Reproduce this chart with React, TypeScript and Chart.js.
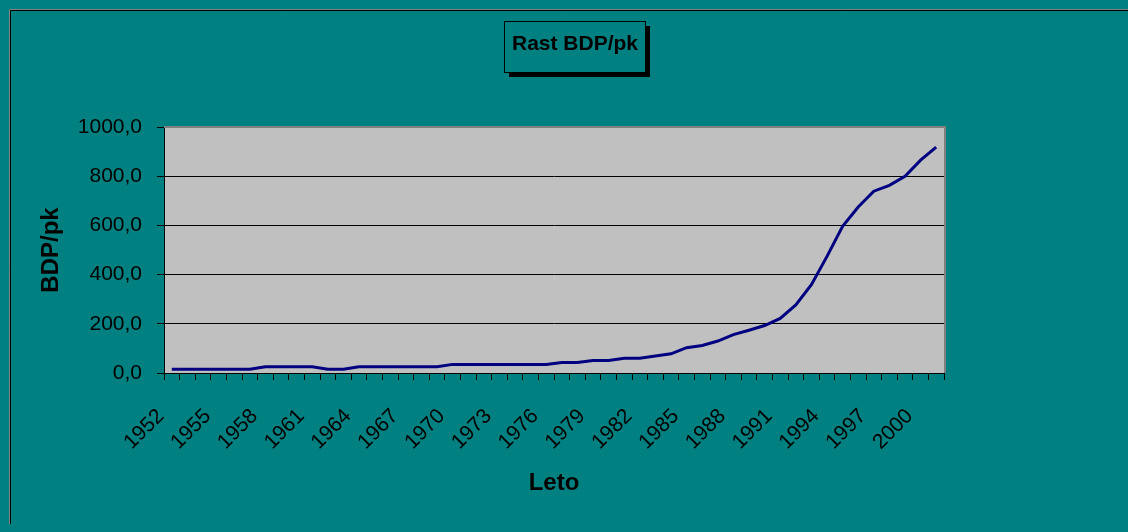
import React, { useEffect, useRef } from "react";
import { Chart, registerables } from "chart.js";

Chart.register(...registerables);

const years: string[] = [
  "1952", "1953", "1954", "1955", "1956", "1957", "1958", "1959", "1960", "1961",
  "1962", "1963", "1964", "1965", "1966", "1967", "1968", "1969", "1970", "1971",
  "1972", "1973", "1974", "1975", "1976", "1977", "1978", "1979", "1980", "1981",
  "1982", "1983", "1984", "1985", "1986", "1987", "1988", "1989", "1990", "1991",
  "1992", "1993", "1994", "1995", "1996", "1997", "1998", "1999", "2000", "2001",
];

const bdpPk: number[] = [
  15, 15, 15, 15, 15, 15, 25, 25, 25, 25,
  15, 15, 25, 25, 25, 25, 25, 25, 35, 35,
  35, 35, 35, 35, 35, 43, 43, 51, 51, 60,
  60, 69, 78, 103, 112, 130, 156, 174, 193, 222,
  277, 359, 474, 596, 675, 739, 763, 800, 865, 918,
];

const yTickValues: number[] = [0, 200, 400, 600, 800, 1000];

const chartTitle = "Rast BDP/pk";
const xTitle = "Leto";
const yTitle = "BDP/pk";

const FONT = "'Liberation Sans', Arial, sans-serif";
const TEAL = "#008080";

const decorPlugin = {
  id: "decor",
  beforeDraw(chart: any) {
    const { ctx, width, height, chartArea } = chart;
    ctx.save();
    ctx.fillStyle = TEAL;
    ctx.fillRect(0, 0, width, height);
    // outer border (top/left visible)
    ctx.strokeStyle = "#808080";
    ctx.lineWidth = 1;
    ctx.beginPath();
    ctx.moveTo(1.5, height);
    ctx.lineTo(1.5, 1.5);
    ctx.lineTo(width, 1.5);
    ctx.stroke();
    ctx.strokeStyle = "#000";
    ctx.beginPath();
    ctx.moveTo(2.5, height);
    ctx.lineTo(2.5, 2.5);
    ctx.lineTo(width, 2.5);
    ctx.stroke();
    // plot area
    ctx.fillStyle = "#C0C0C0";
    ctx.fillRect(chartArea.left, chartArea.top, chartArea.right - chartArea.left, chartArea.bottom - chartArea.top);
    ctx.restore();
  },
  beforeDatasetsDraw(chart: any) {
    const { ctx, chartArea } = chart;
    ctx.save();
    ctx.strokeStyle = "#808080";
    ctx.lineWidth = 2;
    ctx.beginPath();
    ctx.moveTo(chartArea.left, chartArea.top);
    ctx.lineTo(chartArea.right + 1, chartArea.top);
    ctx.lineTo(chartArea.right + 1, chartArea.bottom);
    ctx.stroke();
    ctx.restore();
  },
  afterDraw(chart: any) {
    const { ctx } = chart;
    const bx = 496, by = 13, bw = 141, bh = 51;
    ctx.save();
    ctx.fillStyle = "#000";
    ctx.fillRect(bx + 5, by + 5, bw, bh);
    ctx.fillStyle = TEAL;
    ctx.fillRect(bx, by, bw, bh);
    ctx.strokeStyle = "#000";
    ctx.lineWidth = 1;
    ctx.strokeRect(bx + 0.5, by + 0.5, bw, bh);
    ctx.fillStyle = "#000";
    ctx.font = `bold 21px ${FONT}`;
    ctx.textAlign = "center";
    ctx.textBaseline = "middle";
    ctx.fillText(chartTitle, bx + bw / 2 + 0.5, 36);
    ctx.restore();
  },
};

export default function App() {
  const canvasRef = useRef<HTMLCanvasElement | null>(null);

  useEffect(() => {
    if (!canvasRef.current) return;
    document.documentElement.style.overflow = "hidden";
    document.body.style.background = TEAL;
    const chart = new Chart(canvasRef.current, {
      type: "line",
      data: {
        labels: years,
        datasets: [
          {
            label: yTitle,
            data: bdpPk,
            borderColor: "#000080",
            borderWidth: 3,
            pointRadius: 0,
            tension: 0,
            fill: false,
          },
        ],
      },
      options: {
        animation: false,
        responsive: false,
        devicePixelRatio: 1,
        layout: { padding: { top: 119, left: 20, right: 176, bottom: 16 } },
        plugins: {
          legend: { display: false },
          tooltip: { enabled: false },
          title: { display: false },
        },
        scales: {
          x: {
            type: "category",
            offset: true,
            afterFit: (scale: any) => {
              scale.height = 135;
            },
            grid: {
              offset: true,
              drawOnChartArea: false,
              drawTicks: true,
              tickLength: 7,
              color: "#000",
              tickColor: "#000",
            },
            border: { display: true, color: "#000", width: 1 },
            ticks: {
              autoSkip: false,
              maxRotation: 45,
              minRotation: 45,
              padding: 24,
              labelOffset: -11,
              color: "#000",
              font: { family: FONT, size: 21 },
              callback: (_v: any, i: number) => (i % 3 === 0 ? years[i] : ""),
            },
            title: {
              display: true,
              text: xTitle,
              color: "#000",
              font: { family: FONT, size: 24, weight: "bold" },
              padding: { top: 0, bottom: 10 },
            },
          },
          y: {
            min: 0,
            max: 1000,
            afterFit: (scale: any) => {
              scale.width = 136;
            },
            afterBuildTicks: (scale: any) => {
              scale.ticks = yTickValues.map((v) => ({ value: v }));
            },
            grid: {
              drawTicks: true,
              tickLength: 7,
              color: (c: any) => (c.tick && c.tick.value === 1000 ? "#808080" : "#000"),
              tickColor: "#000",
            },
            border: { display: true, color: "#000", width: 1 },
            ticks: {
              padding: 15,
              color: "#000",
              font: { family: FONT, size: 21 },
              callback: (v: any) => Number(v).toFixed(1).replace(".", ","),
            },
            title: {
              display: true,
              text: yTitle,
              color: "#000",
              font: { family: FONT, size: 24, weight: "bold" },
              padding: { top: 9, bottom: 0 },
            },
          },
        },
      },
      plugins: [decorPlugin],
    } as any);
    return () => chart.destroy();
  }, []);

  return (
    <div>
      <canvas
        ref={canvasRef}
        width={1112}
        height={516}
        style={{ display: "block", width: 1112, height: 516 }}
      />
      <div style={{ position: "fixed", left: 1120, top: 9, width: 8, height: 1, background: "#808080" }} />
      <div style={{ position: "fixed", left: 1120, top: 10, width: 8, height: 1, background: "#000" }} />
    </div>
  );
}
